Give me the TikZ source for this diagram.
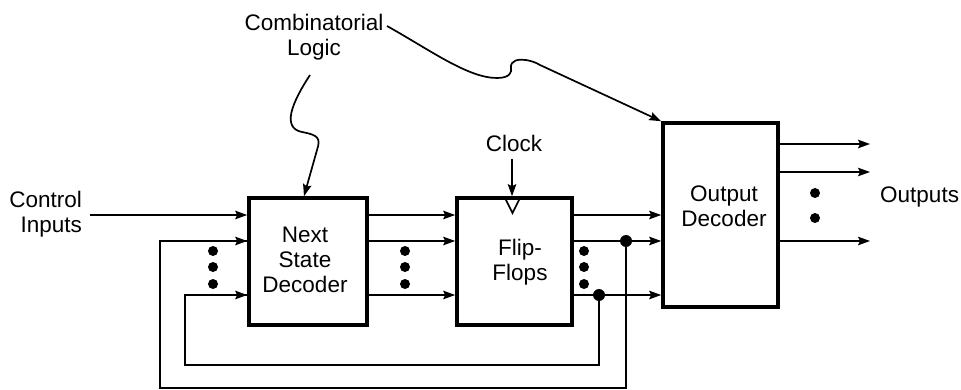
\documentclass[tikz,border=0pt]{standalone}
\usepackage{fontspec}
\setmainfont{Liberation Sans}
\usetikzlibrary{arrows.meta}
\newcommand\diaglbl{\fontsize{22.5}{25}\selectfont}
\begin{document}
\begin{tikzpicture}[x=1pt,y=-1pt,
  blk/.style={draw,line width=3.6pt,inner sep=0pt},
  wire/.style={line width=1.7pt},
  arr/.style={wire,-{Stealth[length=12pt,width=8.5pt,inset=2pt]}},
  lbl/.style={inner sep=0pt,align=center,font=\diaglbl},
  edot/.style={circle,fill,inner sep=0pt,minimum size=10pt},
  jdot/.style={circle,fill,inner sep=0pt,minimum size=12pt}
]
\useasboundingbox (0,0) rectangle (961,390);

% blocks
\node[blk,minimum width=118pt,minimum height=127pt] (nsd) at (308,261.5) {};
\node[blk,minimum width=115pt,minimum height=127pt] (ff) at (514.5,261.5) {};
\node[blk,minimum width=115pt,minimum height=184pt] (od) at (720.5,215) {};

% block labels
\node[lbl] (nsdt) at (305,260) {Next\\State\\Decoder};
\node[lbl] (fft) at (520,262) {Flip-\\Flops};
\node[lbl] (odt) at (724,206) {Output\\Decoder};

% other labels
\node[lbl] (comb) at (314,37) {Combinatorial\\Logic};
\node[lbl,align=right,anchor=east] (ctrl) at (82,214) {Control\\Inputs};
\node[lbl,anchor=base] (clk) at (514,152) {Clock};
\node[lbl,anchor=base west] (outs) at (880,203) {Outputs};

% row coordinates
\coordinate (ya) at (0,215);
\coordinate (yb) at (0,241);
\coordinate (yc) at (0,295);
\coordinate (cstart) at (90,215);

% control input
\draw[arr] (cstart) -- (nsd.west |- ya);

% NSD -> FF
\draw[arr] (nsd.east |- ya) -- (ff.west |- ya);
\draw[arr] (nsd.east |- yb) -- (ff.west |- yb);
\draw[arr] (nsd.east |- yc) -- (ff.west |- yc);

% FF -> OD
\draw[arr] (ff.east |- ya) -- (od.west |- ya);
\draw[arr] (ff.east |- yb) -- (od.west |- yb);
\draw[arr] (ff.east |- yc) -- (od.west |- yc);

% junctions and feedback
\node[jdot] (j1) at (626,241) {};
\node[jdot] (j2) at (599,295) {};
\coordinate (fb1a) at (626,388);
\coordinate (fb1b) at (160,388);
\coordinate (fb2a) at (599,365);
\coordinate (fb2b) at (185,365);
\draw[wire] (j1.center) -- (fb1a) -- (fb1b) |- (yb -| nsd.west);
\draw[arr] (fb1b |- yb) -- (nsd.west |- yb);
\draw[wire] (j2.center) -- (fb2a) -- (fb2b) |- (yc -| nsd.west);
\draw[arr] (fb2b |- yc) -- (nsd.west |- yc);

% ellipsis dots
\foreach \x/\n in {213/a,405/b,584/c}{
  \node[edot] (d1\n) at (\x,251) {};
  \node[edot] (d2\n) at (\x,267) {};
  \node[edot] (d3\n) at (\x,284) {};
}
\node[edot] (o1) at (815,193) {};
\node[edot] (o2) at (815,218) {};

% outputs
\coordinate (oe1) at (870,144);
\coordinate (oe2) at (870,172);
\coordinate (oe3) at (870,241);
\draw[arr] (od.east |- oe1) -- (oe1);
\draw[arr] (od.east |- oe2) -- (oe2);
\draw[arr] (od.east |- oe3) -- (oe3);

% clock
\draw[arr] (512,159) -- (ff.north -| 512,0);
\draw[wire,line join=miter] (505,198) -- (512.5,213) -- (520,198);

% combinatorial logic pointers
\draw[arr] (310,75) .. controls (291,104) and (282,128) .. (302,132)
  .. controls (318,135) and (321,138) .. (317,150) -- (nsd.north -| 304,0);
\draw[arr] (387,26) .. controls (430,50) and (468,78) .. (497,78)
  .. controls (510,78) and (512,72) .. (511,68)
  .. controls (510,60) and (519,59) .. (526,60)
  .. controls (531,61) and (535,62) .. (540,65) -- (od.north west);
\end{tikzpicture}
\end{document}
